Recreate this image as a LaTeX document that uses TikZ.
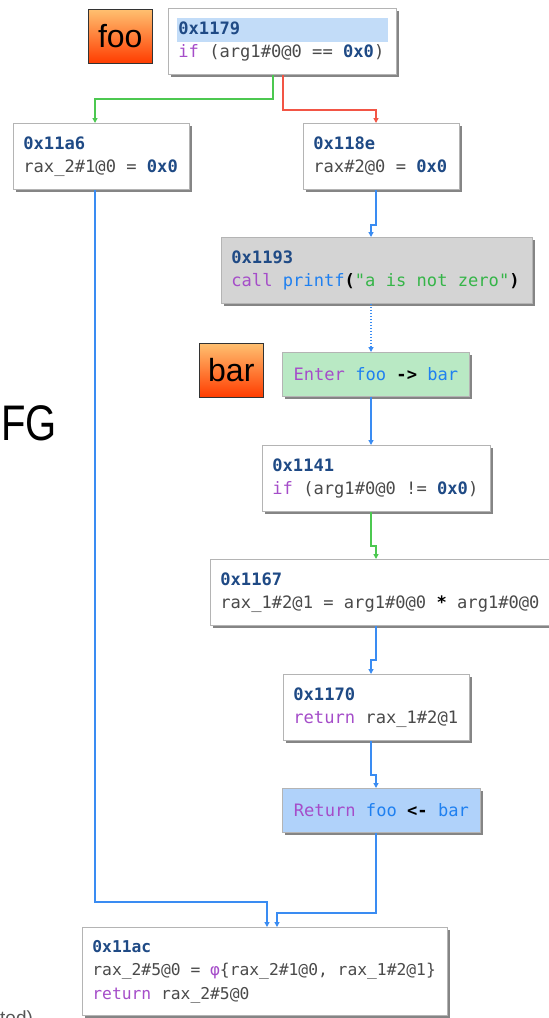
\documentclass[tikz,border=0pt]{standalone}
\usepackage{fontspec}
\usepackage{graphicx}
\setmonofont{DejaVu Sans Mono}
\setsansfont{Liberation Sans}
\usetikzlibrary{arrows.meta,shadows}
\definecolor{addrc}{HTML}{1F4A85}
\definecolor{kwc}{HTML}{A54DC9}
\definecolor{fnc}{HTML}{1F80F0}
\definecolor{strc}{HTML}{35B548}
\definecolor{txtc}{HTML}{4A4A4A}
\definecolor{hlc}{HTML}{C2DCF8}
\definecolor{bdc}{HTML}{B4B4B4}
\definecolor{shdc}{HTML}{858585}
\definecolor{egc}{HTML}{4CC850}
\definecolor{erc}{HTML}{F25545}
\definecolor{ebc}{HTML}{3A8CF2}
\definecolor{grayfillc}{HTML}{D4D4D4}
\definecolor{enterfillc}{HTML}{B9E9C4}
\definecolor{retfillc}{HTML}{B0D2FA}
\definecolor{lbltop}{HTML}{FFC070}
\definecolor{lblbot}{HTML}{FF3C00}
\definecolor{notec}{HTML}{555555}
\newcommand{\cAd}[1]{\textcolor{addrc}{\bfseries #1}}
\newcommand{\cKw}[1]{\textcolor{kwc}{#1}}
\newcommand{\cFn}[1]{\textcolor{fnc}{#1}}
\newcommand{\cStr}[1]{\textcolor{strc}{#1}}
\newcommand{\cOp}[1]{\textcolor{black}{\bfseries #1}}
\newcommand{\cfont}{\fontsize{17.1}{23}\selectfont\ttfamily}
\newcommand{\cfontsm}{\fontsize{16.3}{23.5}\selectfont\ttfamily}
\newcommand{\monospaces}{\spaceskip=0.602em\relax\xspaceskip=0.602em\relax}
\begin{document}
\begin{tikzpicture}[x=1pt,y=-1pt,
  blk/.style={draw=bdc, line width=0.8pt, fill=white, anchor=north west,
    inner xsep=10pt, inner ysep=0pt, font=\cfont, text=txtc, align=left,
    execute at begin node=\monospaces,
    drop shadow={shadow xshift=3pt, shadow yshift=-3pt, fill=shdc, opacity=1}},
  lbl/.style={draw=black!80, line width=0.6pt, anchor=north west,
    minimum width=64pt, minimum height=54pt, inner sep=0pt,
    top color=lbltop, bottom color=lblbot,
    font=\sffamily\fontsize{32}{32}\selectfont, text=black},
  tip/.style={-{Triangle[length=5pt,width=5pt]}},
  eg/.style={draw=egc, line width=1.2pt, tip},
  er/.style={draw=erc, line width=1.2pt, tip},
  eb/.style={draw=ebc, line width=1.2pt, tip},
  ebd/.style={draw=ebc, line width=1.2pt, tip, dash pattern=on 1pt off 2pt}]
\useasboundingbox (0,0) rectangle (549,1018);
\clip (0,0) rectangle (549,1018);

% side texts
\node[font=\sffamily\fontsize{50}{50}\selectfont, anchor=base east, inner sep=0pt] (cfg) at (57,440) {\scalebox{0.8}[1]{FG}};
\node[font=\sffamily\fontsize{19}{19}\selectfont, text=notec, anchor=base west, inner sep=0pt] (note) at (0,1024) {ted)};

% labels
\node[lbl] (foo) at (88,9) {foo};
\node[lbl] (bar) at (199,343) {bar};

% blocks
\node[blk, text width=208pt, minimum height=66pt,
  path picture={\fill[hlc] ([xshift=9pt,yshift=-10pt]path picture bounding box.north west) rectangle ([xshift=-8pt,yshift=-34pt]path picture bounding box.north east);}]
  (n1179) at (168,8) {\cAd{0x1179}\\\cKw{if} (arg1\#0@0 == \cAd{0x0})};
\node[blk, text width=156pt, minimum height=66pt] (n11a6) at (13,123)
  {\cAd{0x11a6}\\rax\_2\#1@0 = \cAd{0x0}};
\node[blk, text width=136pt, minimum height=66pt] (n118e) at (303,123)
  {\cAd{0x118e}\\rax\#2@0 = \cAd{0x0}};
\node[blk, fill=grayfillc, text width=291pt, minimum height=66pt] (n1193) at (221,237)
  {\cAd{0x1193}\\\cKw{call} \cFn{printf}\cOp{(}\cStr{"a is not zero"}\cOp{)}};
\node[blk, fill=enterfillc, text width=167pt, minimum height=44pt, align=center] (nenter) at (282,352)
  {\cKw{Enter} \cFn{foo} \cOp{->} \cFn{bar}};
\node[blk, text width=208pt, minimum height=66pt] (n1141) at (262,445)
  {\cAd{0x1141}\\\cKw{if} (arg1\#0@0 != \cAd{0x0})};
\node[blk, text width=340pt, minimum height=66pt] (n1167) at (210,559)
  {\cAd{0x1167}\\rax\_1\#2@1 = arg1\#0@0 \cOp{*} arg1\#0@0};
\node[blk, text width=166pt, minimum height=66pt] (n1170) at (283,674)
  {\cAd{0x1170}\\\cKw{return} rax\_1\#2@1};
\node[blk, fill=retfillc, text width=178pt, minimum height=44pt, align=center] (nret) at (282,788)
  {\cKw{Return} \cFn{foo} \cOp{<-} \cFn{bar}};
\node[blk, font=\cfontsm, text width=345pt, minimum height=88pt] (n11ac) at (82,927)
  {\cAd{0x11ac}\\rax\_2\#5@0 = \cKw{φ}\{rax\_2\#1@0, rax\_1\#2@1\}\\\cKw{return} rax\_2\#5@0};

% connectors
\draw[eg] ([xshift=105pt]n1179.south west) |- (95,99) -- ([xshift=82pt]n11a6.north west);
\draw[er] ([xshift=115pt]n1179.south west) |- (376,110) -- ([xshift=73pt]n118e.north west);
\draw[eb] ([xshift=73pt]n118e.south west) |- (371,225) -- ([xshift=150pt]n1193.north west);
\draw[ebd] ([xshift=150pt]n1193.south west) -- ([xshift=89pt]nenter.north west);
\draw[eb] ([xshift=89pt]nenter.south west) -- ([xshift=109pt]n1141.north west);
\draw[eg] ([xshift=109pt]n1141.south west) |- (376,546) -- ([xshift=166pt]n1167.north west);
\draw[eb] ([xshift=166pt]n1167.south west) |- (371,660) -- ([xshift=88pt]n1170.north west);
\draw[eb] ([xshift=88pt]n1170.south west) |- (376,775) -- ([xshift=94pt]nret.north west);
\draw[eb] ([xshift=94pt]nret.south west) |- (277,913) -- ([xshift=195pt]n11ac.north west);
\draw[eb] ([xshift=82pt]n11a6.south west) |- (267,902) -- ([xshift=185pt]n11ac.north west);
\end{tikzpicture}
\end{document}
